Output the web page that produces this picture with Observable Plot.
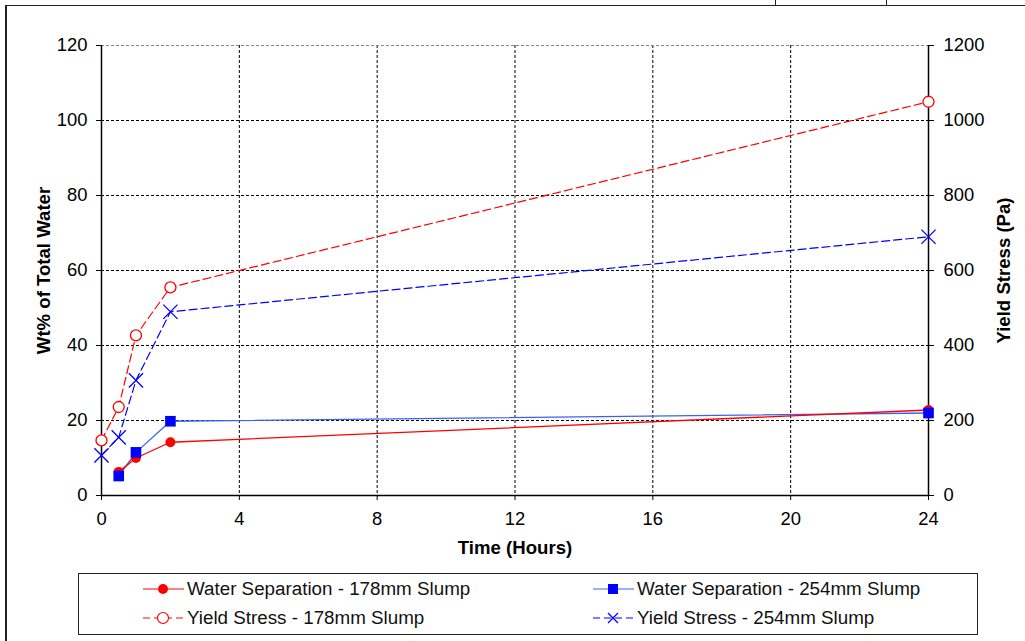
<!DOCTYPE html>
<html><head><meta charset="utf-8">
<script src="https://cdn.jsdelivr.net/npm/d3@7"></script>
<script src="https://cdn.jsdelivr.net/npm/@observablehq/plot@0.6"></script>
<style>
body{margin:0;background:#fff;font-family:"Liberation Sans",Arial,sans-serif;}
#root{position:relative;width:1025px;height:641px;overflow:hidden;}
.leg{position:absolute;font-size:18.8px;color:#111;white-space:nowrap;line-height:20px;}
.sym{position:absolute;}
</style>
</head><body><div id="root"></div>
<script>
// ---- data ----
const wsHours = [0.5, 1, 2, 24];
const ws178 = [6.3, 10.0, 14.2, 22.8];
const ws254 = [5.2, 11.5, 19.8, 22.0];
const ysHours = [0, 0.5, 1, 2, 24];
const ys178 = [147, 236, 427, 555, 1050];
const ys254 = [107, 155, 307, 490, 690];
const xTicks = [0, 4, 8, 12, 16, 20, 24];
const leftTicks = [0, 20, 40, 60, 80, 100, 120];
const rightTicks = [0, 200, 400, 600, 800, 1000, 1200];
const seriesNames = ["Water Separation - 178mm Slump", "Water Separation - 254mm Slump",
  "Yield Stress - 178mm Slump", "Yield Stress - 254mm Slump"];
const xTitle = "Time (Hours)", yTitle = "Wt% of Total Water", y2Title = "Yield Stress (Pa)";

const RED = "#ff0000", BLUE = "#0000ff", LBLUE = "#3a62f0";
const w178 = wsHours.map((h, i) => ({h, v: ws178[i]}));
const w254 = wsHours.map((h, i) => ({h, v: ws254[i]}));
const y178 = ysHours.map((h, i) => ({h, v: ys178[i]}));
const y254 = ysHours.map((h, i) => ({h, v: ys254[i]}));
const ratio = rightTicks[rightTicks.length-1] / leftTicks[leftTicks.length-1];

const chart = Plot.plot({
  width: 1025, height: 565,
  marginTop: 45, marginBottom: 70, marginLeft: 101, marginRight: 97,
  style: {fontSize: "18.4px", fontFamily: "'Liberation Sans', Arial, sans-serif", color: "#000", background: "transparent"},
  x: {domain: [0, 24]},
  y: {domain: [0, 120]},
  marks: [
    Plot.gridX(xTicks.slice(1, -1), {stroke: "#000", strokeOpacity: 1, strokeWidth: 1, strokeDasharray: "3,2"}),
    Plot.gridY(leftTicks.slice(1, -1), {stroke: "#000", strokeOpacity: 1, strokeWidth: 1, strokeDasharray: "3,2"}),
    Plot.gridY([leftTicks[leftTicks.length-1]], {stroke: "#888", strokeOpacity: 1, strokeWidth: 1, strokeDasharray: "3,2"}),
    Plot.ruleX([0], {stroke: "#000", strokeWidth: 1.5}),
    Plot.ruleX([24], {stroke: "#000", strokeWidth: 1.5}),
    Plot.ruleY([0], {stroke: "#000", strokeWidth: 1.5}),
    Plot.axisX(xTicks, {anchor: "bottom", tickSize: 5, tickPadding: 11, label: null, stroke: "#000"}),
    Plot.axisY(leftTicks, {anchor: "left", tickSize: 5, tickPadding: 9, label: null}),
    Plot.axisY(rightTicks.map(v => v / ratio), {anchor: "right", tickSize: 5, tickPadding: 10, label: null,
      tickFormat: (d) => String(Math.round(d * ratio))}),
    Plot.text([xTitle], {frameAnchor: "bottom", dy: 58, fontWeight: "bold", fontSize: 18.6}),
    Plot.text([yTitle], {frameAnchor: "left", textAnchor: "middle", dx: -57, rotate: -90, fontWeight: "bold", fontSize: 18.6}),
    Plot.text([y2Title], {frameAnchor: "right", textAnchor: "middle", dx: 76, rotate: -90, fontWeight: "bold", fontSize: 18.6}),
    // yield stress (right axis) lines
    Plot.line(y178, {x: "h", y: d => d.v / ratio, stroke: RED, strokeWidth: 1.2, strokeDasharray: "8,4"}),
    Plot.line(y254, {x: "h", y: d => d.v / ratio, stroke: BLUE, strokeWidth: 1.2, strokeDasharray: "8,4"}),
    Plot.dot(y178, {x: "h", y: d => d.v / ratio, symbol: "circle", r: 5.5, stroke: RED, fill: "white", strokeWidth: 1.3}),
    Plot.dot(y254, {x: "h", y: d => d.v / ratio, symbol: "times", r: 6.5, stroke: BLUE, strokeWidth: 1.3}),
    // water separation lines
    Plot.line(w254, {x: "h", y: "v", stroke: LBLUE, strokeWidth: 1.3}),
    Plot.line(w178, {x: "h", y: "v", stroke: RED, strokeWidth: 1.3}),
    Plot.dot(w178, {x: "h", y: "v", symbol: "circle", r: 5, fill: RED}),
    Plot.dot(w254, {x: "h", y: "v", symbol: "square", r: 6, fill: BLUE})
  ]
});
const root = document.getElementById("root");
chart.style.position = "absolute"; chart.style.left = "0px"; chart.style.top = "0px";
root.appendChild(chart);

// frame lines of the surrounding page
function box(l, t, w, h, css) {
  const d = document.createElement("div");
  d.style.cssText = `position:absolute;left:${l}px;top:${t}px;width:${w}px;height:${h}px;${css}`;
  root.appendChild(d); return d;
}
box(5, 5, 1020, 1, "background:#222");
box(5, 5, 1.5, 636, "background:#222");
box(775, 0, 1, 5, "background:#222");
box(886, 0, 1, 5, "background:#222");
// legend
box(78, 573, 898, 60, "border:1.5px solid #222;background:#fff");
function sym(l, t, kind) {
  const s = d3.create("svg").attr("width", 44).attr("height", 16).attr("class", "sym")
    .style("left", l + "px").style("top", t + "px");
  const col = kind === "wr" || kind === "yr" ? RED : (kind === "wb" ? LBLUE : BLUE);
  s.append("line").attr("x1", 1).attr("x2", 42).attr("y1", 8).attr("y2", 8).attr("stroke", col)
    .attr("stroke-width", 1.2).attr("stroke-dasharray", kind[0] === "y" ? "7,4" : null);
  if (kind === "wr") s.append("circle").attr("cx", 21).attr("cy", 8).attr("r", 5).attr("fill", RED);
  if (kind === "wb") s.append("rect").attr("x", 16).attr("y", 3).attr("width", 10).attr("height", 10).attr("fill", BLUE);
  if (kind === "yr") s.append("circle").attr("cx", 21).attr("cy", 8).attr("r", 5.5).attr("fill", "white").attr("stroke", RED).attr("stroke-width", 1.2);
  if (kind === "yb") s.append("path").attr("d", "M16,3L26,13M16,13L26,3").attr("stroke", BLUE).attr("stroke-width", 1.3);
  root.appendChild(s.node());
}
function label(l, t, txt) { const d = document.createElement("div"); d.className = "leg"; d.style.left = l + "px"; d.style.top = t + "px"; d.textContent = txt; root.appendChild(d); }
sym(142, 581, "wr"); label(187, 579, seriesNames[0]);
sym(592, 581, "wb"); label(637, 579, seriesNames[1]);
sym(142, 610, "yr"); label(187, 608, seriesNames[2]);
sym(592, 610, "yb"); label(637, 608, seriesNames[3]);
</script>
</body></html>
